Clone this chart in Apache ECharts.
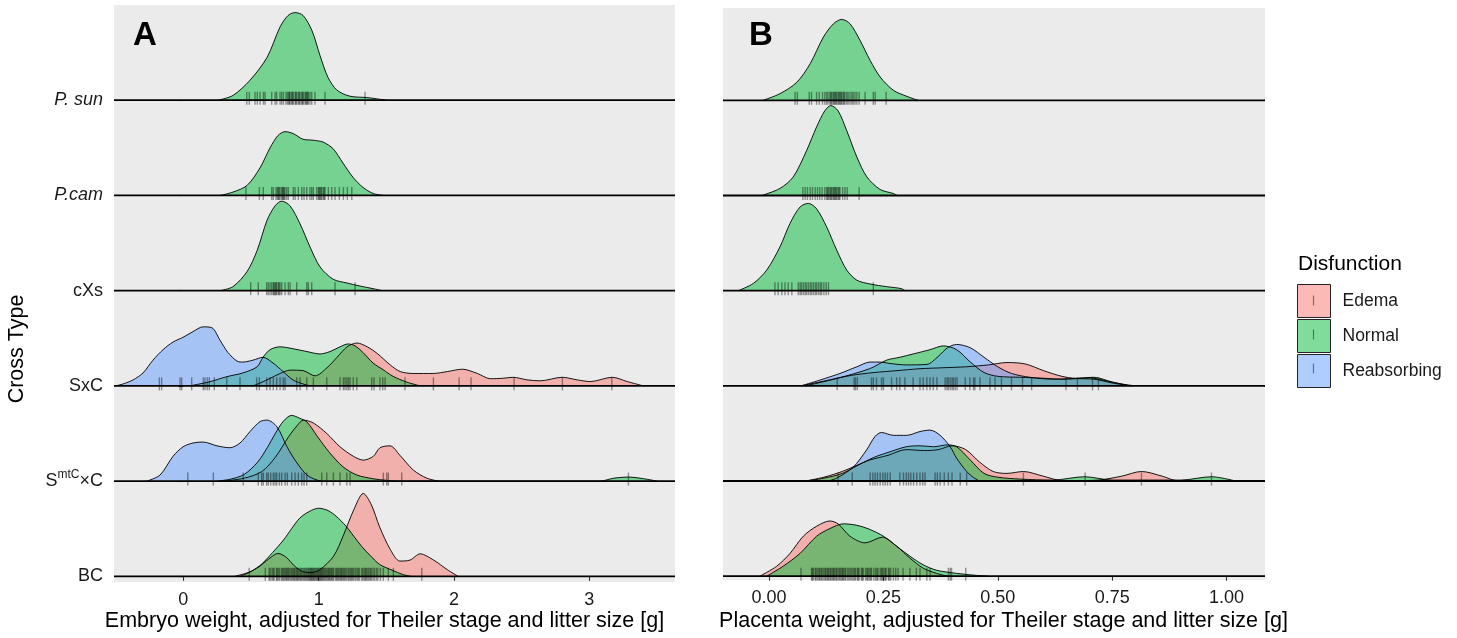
<!DOCTYPE html>
<html><head><meta charset="utf-8">
<script src="https://cdn.jsdelivr.net/npm/echarts@6/dist/echarts.min.js"></script>
<style>html,body{margin:0;padding:0;background:#fff}#c{width:1457px;height:638px}</style>
</head><body><div id="c"></div>
<script>
// ---------- categories ----------
const rowNames = ['BC', 'SmtCxC', 'SxC', 'cXs', 'P.cam', 'P. sun'];   // bottom -> top
const groupNames = ['Edema', 'Normal', 'Reabsorbing'];
const embryoTicks = [0, 1, 2, 3];
const placentaTicks = [0, 0.25, 0.5, 0.75, 1.0];

// ---------- density curves: [x, relative height in % of row spacing] ----------
// Panel A: embryo weight
const A_Psun_Normal = [[0.257,0],[0.367,5],[0.493,21],[0.619,45],[0.715,77],[0.774,89],[0.826,92],[0.885,89],[0.951,73],[1.010,47],[1.069,24],[1.136,10.5],[1.232,4.2],[1.357,2.8],[1.431,1.4],[1.505,0]];
const A_Pcam_Normal = [[0.273,0],[0.367,3.5],[0.471,10.5],[0.567,29],[0.641,50],[0.700,63],[0.752,67],[0.811,65],[0.885,59],[0.959,58],[1.033,56],[1.107,49],[1.180,34],[1.254,19],[1.328,8.4],[1.402,2.1],[1.476,0]];
const A_cXs_Normal = [[0.271,0],[0.367,4.2],[0.471,20],[0.545,42],[0.619,74],[0.678,89],[0.727,94],[0.789,89],[0.863,70],[0.936,46],[1.010,25],[1.107,12],[1.210,8],[1.306,4.8],[1.402,2.1],[1.468,0]];
const A_SxC_Edema = [[0.517,0],[0.619,6.3],[0.715,13],[0.789,16.5],[0.885,16],[0.973,10.5],[1.062,19],[1.136,30],[1.210,41],[1.284,45],[1.359,41],[1.433,34],[1.529,22],[1.603,15],[1.699,13],[1.847,13],[1.951,15],[2.062,17.5],[2.173,13],[2.269,7.5],[2.363,8],[2.437,9],[2.540,6.3],[2.637,5.3],[2.800,9],[2.911,6.3],[3.007,4.5],[3.170,9],[3.280,4.5],[3.399,0]];
const A_SxC_Normal = [[0.049,0],[0.197,4.4],[0.323,9.7],[0.441,13.6],[0.545,20],[0.589,30],[0.641,38],[0.715,41],[0.811,39],[0.914,36],[1.010,33.5],[1.084,36],[1.158,41],[1.217,44],[1.269,42],[1.328,35],[1.402,24],[1.476,17],[1.55,10],[1.65,4],[1.75,0]];
const A_SxC_Reabsorbing = [[-0.50,0],[-0.445,2],[-0.372,6.2],[-0.298,13.5],[-0.224,27],[-0.150,38],[-0.076,46],[-0.002,51],[0.072,57],[0.146,62],[0.212,61],[0.271,48],[0.330,35],[0.397,26],[0.441,25],[0.515,27],[0.589,30],[0.663,24],[0.737,15],[0.811,6.2],[0.885,2],[0.937,0]];
const A_SmtC_Edema = [[0.30,0],[0.45,3],[0.58,10],[0.68,25],[0.78,47],[0.84,58],[0.887,64],[0.961,61],[1.06,50],[1.158,36],[1.257,26],[1.33,22],[1.404,26],[1.453,35],[1.527,37],[1.601,27],[1.70,11.5],[1.80,3],[1.885,0]];
const A_SmtC_Normal = [[0.25,0],[0.35,2],[0.45,7],[0.55,20],[0.62,35],[0.68,50],[0.74,63],[0.80,69],[0.86,66],[0.914,62],[0.99,47],[1.08,30],[1.18,15],[1.28,6.5],[1.40,2.5],[1.50,0.8],[1.58,0],[3.08,0],[3.18,3],[3.29,4.2],[3.40,2.5],[3.50,0]];
const A_SmtC_Reabsorbing = [[-0.269,0],[-0.172,6.3],[-0.076,26],[-0.002,36],[0.072,40],[0.146,41],[0.249,37],[0.345,35],[0.419,40],[0.493,52],[0.567,62.5],[0.619,64],[0.692,57],[0.766,36],[0.840,19],[0.914,6.3],[0.988,1],[1.03,0]];
const A_BC_Edema = [[0.38,0],[0.48,4],[0.56,10],[0.63,18],[0.70,24],[0.76,20],[0.82,11],[0.88,5],[0.95,4],[1.01,7],[1.11,21],[1.18,42],[1.26,70],[1.33,87],[1.39,75],[1.45,52],[1.53,28],[1.60,16],[1.675,17],[1.75,23.6],[1.85,17],[1.95,7],[2.03,0]];
const A_BC_Normal = [[0.42,0],[0.50,5],[0.58,13],[0.66,25],[0.74,38],[0.80,50],[0.86,61],[0.93,68],[1.00,71.5],[1.07,69],[1.13,63],[1.20,53],[1.26,42],[1.32,31],[1.38,22],[1.45,12.5],[1.55,6],[1.62,2],[1.68,0]];

// Panel B: placenta weight
const B_Psun_Normal = [[-0.013,0],[0.024,7],[0.061,19],[0.090,38.5],[0.119,66.5],[0.141,80.5],[0.159,85],[0.177,80.5],[0.199,63],[0.221,42],[0.243,24.5],[0.272,10.5],[0.301,4.2],[0.326,0]];
const B_Pcam_Normal = [[-0.016,0],[0.024,7.4],[0.053,19.5],[0.082,47],[0.104,72],[0.122,89],[0.135,94.5],[0.151,89],[0.170,68],[0.192,40.5],[0.214,19.5],[0.243,6.3],[0.272,2.1],[0.28,0]];
const B_cXs_Normal = [[-0.067,0],[-0.034,7.7],[-0.005,21.6],[0.024,46],[0.046,70.7],[0.068,88],[0.086,91.7],[0.104,86],[0.126,67],[0.148,42.6],[0.170,21.6],[0.192,11],[0.221,7],[0.257,4.2],[0.290,2.1],[0.297,0]];
const B_SxC_Edema = [[0.07,0],[0.12,5],[0.18,11],[0.23,14],[0.28,16],[0.33,18],[0.38,19],[0.43,20],[0.48,22],[0.52,24.5],[0.56,23],[0.60,16],[0.64,10],[0.67,8],[0.70,8.5],[0.73,6],[0.77,2],[0.80,0]];
const B_SxC_Normal = [[0.08,0],[0.15,8],[0.22,18],[0.257,27],[0.286,30],[0.315,33.5],[0.352,38],[0.381,42],[0.41,38],[0.44,25],[0.47,14],[0.50,10],[0.55,9],[0.60,8],[0.64,7],[0.68,8],[0.71,9],[0.75,4],[0.79,0]];
const B_SxC_Reabsorbing = [[0.07,0],[0.111,6],[0.155,13],[0.192,20],[0.221,25],[0.243,25],[0.264,23.5],[0.30,22],[0.345,22.5],[0.37,31],[0.39,40],[0.41,43.5],[0.44,40],[0.47,30],[0.50,20],[0.53,13],[0.57,9],[0.62,7],[0.67,7.5],[0.71,7],[0.75,3],[0.79,0]];
const B_SmtC_Edema = [[0.08,0],[0.12,4],[0.16,10],[0.19,16],[0.22,22],[0.26,27],[0.30,33],[0.34,32],[0.37,33],[0.40,37],[0.43,33],[0.46,20],[0.49,10],[0.52,8],[0.556,10],[0.60,5],[0.64,0.5],[0.68,0.5],[0.72,1],[0.77,5],[0.814,10],[0.86,5],[0.89,0.5],[0.95,0]];
const B_SmtC_Normal = [[0.08,0],[0.12,3],[0.16,8],[0.20,18],[0.23,25],[0.26,30],[0.30,36],[0.33,37],[0.36,36],[0.39,38],[0.41,36],[0.44,22],[0.47,8],[0.50,4],[0.55,2],[0.62,1],[0.69,4.5],[0.75,1],[0.85,1],[0.90,1],[0.967,4.5],[1.02,0]];
const B_SmtC_Reabsorbing = [[0.13,0],[0.148,3],[0.184,14.5],[0.213,32.5],[0.232,47],[0.246,51],[0.272,48],[0.301,48],[0.330,52],[0.352,53.5],[0.374,48],[0.396,36],[0.410,24],[0.432,10],[0.446,4],[0.46,0]];
const B_BC_Edema = [[-0.02,0],[0.017,10.5],[0.046,24],[0.075,42],[0.104,52.5],[0.133,58],[0.151,55],[0.177,42],[0.21,35],[0.248,41],[0.279,31.5],[0.308,19],[0.337,8.4],[0.366,3],[0.39,0]];
const B_BC_Normal = [[-0.005,0],[0.031,10.5],[0.068,24],[0.104,42],[0.133,50],[0.162,55],[0.192,53.5],[0.221,49],[0.25,42],[0.279,31.5],[0.308,21],[0.337,12],[0.366,6.3],[0.41,3],[0.45,1],[0.48,0]];

// ---------- rug (individual observations) ----------
const A_rug_Psun = [0.469,0.488,0.530,0.547,0.567,0.592,0.604,0.653,0.678,0.690,0.715,0.727,0.740,0.759,0.769,0.779,0.789,0.801,0.813,0.826,0.838,0.850,0.863,0.875,0.887,0.899,0.912,0.924,0.936,0.949,0.973,1.047,1.343,0.784,0.806,0.831,0.857,0.881,0.905,0.918];
const A_rug_Pcam = [0.463,0.562,0.591,0.653,0.665,0.685,0.702,0.715,0.727,0.739,0.751,0.764,0.776,0.813,0.826,0.850,0.875,0.892,0.912,0.936,0.949,0.961,0.986,0.998,1.010,1.023,1.035,1.047,1.072,1.097,1.121,1.153,1.183,1.212,1.245,0.695,0.708,0.733,0.745,1.004,1.017,1.041];
const A_rug_cXs = [0.498,0.554,0.616,0.628,0.641,0.653,0.665,0.678,0.690,0.702,0.715,0.727,0.752,0.776,0.789,0.838,0.912,0.924,0.949,1.121,1.269,0.671,0.684,0.708];
const A_rug_SxC = [-0.177,-0.160,-0.024,-0.012,0.062,0.148,0.160,0.177,0.192,0.229,0.321,0.419,0.542,0.562,0.616,0.641,0.665,0.690,0.715,0.739,0.752,0.838,0.863,0.912,0.961,1.060,1.158,1.183,1.195,1.208,1.220,1.232,1.256,1.282,1.392,1.409,1.453,1.474,1.491,1.638,1.848,2.038,2.126,2.444,2.801,3.166];
const A_rug_SmtC = [0.033,0.222,0.443,0.554,0.579,0.591,0.616,0.628,0.646,0.665,0.678,0.690,0.710,0.727,0.752,0.769,0.801,0.826,0.850,0.875,0.892,0.912,1.023,1.060,1.109,1.158,1.208,1.232,1.478,1.503,1.515,1.614,3.289];
const A_rug_BC = [0.487,0.606,0.634,0.655,0.671,0.688,0.694,0.712,0.733,0.741,0.758,0.772,0.779,0.797,0.813,0.826,0.842,0.857,0.866,0.881,0.897,0.905,0.921,0.934,0.946,0.958,0.969,0.977,0.991,1.002,1.009,1.021,1.034,1.048,1.056,1.071,1.083,1.097,1.112,1.126,1.141,1.158,1.172,1.189,1.207,1.226,1.243,1.261,1.284,1.302,1.318,1.337,1.352,1.371,1.389,1.412,1.437,1.478,1.515,1.552,1.762,
  0.642,0.664,0.703,0.726,0.749,0.764,0.788,0.805,0.821,0.836,0.849,0.872,0.889,0.913,0.927,0.941,0.952,0.963,0.983,0.996,1.014,1.027,1.041,1.063,1.077,1.091,1.105,1.133,1.149,1.166,1.181,1.197,1.218,1.236,1.252,1.273,1.293,1.327,1.346,1.362,1.381,1.401,1.426,1.456];
const B_rug_Psun = [0.057,0.062,0.088,0.093,0.104,0.110,0.117,0.122,0.126,0.129,0.133,0.137,0.140,0.144,0.148,0.151,0.155,0.159,0.162,0.166,0.170,0.173,0.177,0.181,0.184,0.188,0.192,0.197,0.210,0.228,0.232,0.256,0.135,0.142,0.146,0.153,0.157,0.164];
const B_rug_Pcam = [0.074,0.079,0.084,0.090,0.095,0.101,0.106,0.111,0.116,0.122,0.126,0.130,0.133,0.137,0.140,0.144,0.148,0.151,0.155,0.161,0.166,0.171,0.197,0.128,0.135,0.142,0.146,0.153];
const B_rug_cXs = [0.013,0.020,0.028,0.035,0.042,0.050,0.064,0.068,0.071,0.075,0.079,0.082,0.086,0.090,0.093,0.097,0.101,0.104,0.108,0.112,0.115,0.120,0.125,0.130,0.228];
const B_rug_SxC = [0.149,0.186,0.189,0.193,0.224,0.228,0.235,0.246,0.250,0.268,0.279,0.286,0.297,0.315,0.330,0.337,0.345,0.352,0.359,0.367,0.385,0.389,0.392,0.396,0.400,0.403,0.407,0.411,0.429,0.439,0.447,0.450,0.461,0.483,0.494,0.508,0.530,0.554,0.574,0.649,0.674,0.707,0.720];
const B_rug_SmtC = [0.151,0.182,0.221,0.227,0.232,0.237,0.243,0.249,0.254,0.259,0.265,0.286,0.294,0.300,0.305,0.310,0.316,0.323,0.330,0.336,0.341,0.363,0.368,0.374,0.383,0.392,0.400,0.418,0.432,0.556,0.691,0.814,0.967];
const B_rug_BC = [0.070,0.093,0.097,0.103,0.106,0.111,0.114,0.119,0.124,0.127,0.131,0.136,0.139,0.143,0.148,0.151,0.156,0.159,0.163,0.168,0.172,0.175,0.181,0.184,0.189,0.193,0.197,0.202,0.206,0.211,0.216,0.219,0.224,0.229,0.233,0.238,0.243,0.246,0.251,0.256,0.261,0.266,0.272,0.282,0.293,0.308,0.322,0.330,0.345,0.352,0.392,0.396,0.399,0.430,
  0.095,0.101,0.109,0.116,0.122,0.129,0.134,0.141,0.146,0.154,0.161,0.166,0.178,0.187,0.195,0.204,0.214,0.222,0.236,0.248,0.254,0.263,0.277];

// ---------- assembly ----------
const FONT = '"Liberation Sans", Arial, Helvetica, sans-serif';
const fills = { Edema: 'rgba(248,118,109,0.5)', Normal: 'rgba(0,186,56,0.5)', Reabsorbing: 'rgba(97,156,255,0.5)' };
const panels = [
  { xMin: -0.512, xMax: 3.633, ticks: embryoTicks,
    rows: { 'P. sun': [['Normal', A_Psun_Normal]], 'P.cam': [['Normal', A_Pcam_Normal]], 'cXs': [['Normal', A_cXs_Normal]],
            'SxC': [['Edema', A_SxC_Edema], ['Normal', A_SxC_Normal], ['Reabsorbing', A_SxC_Reabsorbing]],
            'SmtCxC': [['Edema', A_SmtC_Edema], ['Normal', A_SmtC_Normal], ['Reabsorbing', A_SmtC_Reabsorbing]],
            'BC': [['Edema', A_BC_Edema], ['Normal', A_BC_Normal]] },
    rugs: { 'P. sun': A_rug_Psun, 'P.cam': A_rug_Pcam, 'cXs': A_rug_cXs, 'SxC': A_rug_SxC, 'SmtCxC': A_rug_SmtC, 'BC': A_rug_BC } },
  { xMin: -0.1005, xMax: 1.084, ticks: placentaTicks,
    rows: { 'P. sun': [['Normal', B_Psun_Normal]], 'P.cam': [['Normal', B_Pcam_Normal]], 'cXs': [['Normal', B_cXs_Normal]],
            'SxC': [['Edema', B_SxC_Edema], ['Normal', B_SxC_Normal], ['Reabsorbing', B_SxC_Reabsorbing]],
            'SmtCxC': [['Edema', B_SmtC_Edema], ['Normal', B_SmtC_Normal], ['Reabsorbing', B_SmtC_Reabsorbing]],
            'BC': [['Edema', B_BC_Edema], ['Normal', B_BC_Normal]] },
    rugs: { 'P. sun': B_rug_Psun, 'P.cam': B_rug_Pcam, 'cXs': B_rug_cXs, 'SxC': B_rug_SxC, 'SmtCxC': B_rug_SmtC, 'BC': B_rug_BC } }
];

const series = [];
panels.forEach((p, gi) => {
  for (let r = rowNames.length - 1; r >= 0; r--) {
    const name = rowNames[r];
    (p.rows[name] || []).forEach(([grp, pts]) => {
      series.push({
        type: 'line', name: grp, xAxisIndex: gi, yAxisIndex: gi, silent: true,
        data: pts.map(([x, h]) => [x, r + h / 100]),
        smooth: 0.3, symbol: 'none', clip: true, z: 2,
        lineStyle: { color: '#000', width: 0.9 },
        areaStyle: { color: fills[grp], opacity: 1, origin: r }
      });
    });
    series.push({
      type: 'line', name: 'baseline', xAxisIndex: gi, yAxisIndex: gi, silent: true,
      data: [[p.xMin, r], [p.xMax, r]], symbol: 'none', z: 3,
      lineStyle: { color: '#000', width: 1.8 }
    });
  }
  const rugData = [];
  rowNames.forEach((name, r) => (p.rugs[name] || []).forEach(x => rugData.push([x, r])));
  series.push({
    type: 'scatter', name: 'rug', xAxisIndex: gi, yAxisIndex: gi, silent: true, z: 4,
    data: rugData, symbol: 'rect', symbolSize: [1.4, 13], symbolOffset: [0, -2],
    itemStyle: { color: 'rgba(0,0,0,0.5)' }
  });
});

const rowLabel = v => {
  const n = rowNames[Math.round(v)];
  if (n === 'P. sun' || n === 'P.cam') return '{it|' + n + '}';
  if (n === 'SmtCxC') return '{n|S}{sup|mtC}{n|\u00D7C}';
  return '{n|' + n + '}';
};

const option = {
  animation: false,
  textStyle: { fontFamily: FONT },
  grid: [
    { left: 114, top: 5, width: 561, height: 577, show: true, backgroundColor: '#EBEBEB', borderWidth: 0 },
    { left: 723, top: 8, width: 542, height: 572, show: true, backgroundColor: '#EBEBEB', borderWidth: 0 }
  ],
  xAxis: panels.map((p, gi) => ({
    type: 'value', gridIndex: gi, min: p.xMin, max: p.xMax,
    axisLine: { show: false }, splitLine: { show: false },
    axisTick: { show: true, length: 4.5, customValues: p.ticks, lineStyle: { color: '#333', width: 1.1 } },
    axisLabel: { customValues: p.ticks, fontSize: 18, color: '#1a1a1a', margin: 9, fontFamily: FONT,
      formatter: v => gi === 0 ? String(v) : v.toFixed(2) }
  })),
  yAxis: [
    { type: 'value', gridIndex: 0, min: -0.06, max: 6.0,
      axisLine: { show: false }, splitLine: { show: false },
      axisTick: { show: true, length: 5, customValues: [0,1,2,3,4,5], lineStyle: { color: '#333', width: 1.1 } },
      axisLabel: { customValues: [0,1,2,3,4,5], margin: 11, formatter: rowLabel,
        rich: {
          n: { fontSize: 18, color: '#1a1a1a', fontFamily: FONT },
          it: { fontSize: 18, color: '#1a1a1a', fontStyle: 'italic', fontFamily: FONT },
          sup: { fontSize: 12, color: '#1a1a1a', fontFamily: FONT, padding: [0, 0, 12, 0] }
        } } },
    { type: 'value', gridIndex: 1, min: -0.04, max: 5.97,
      axisLine: { show: false }, splitLine: { show: false }, axisTick: { show: false }, axisLabel: { show: false } }
  ],
  legend: {
    orient: 'vertical', left: 1297, top: 284, padding: 0, itemWidth: 33, itemHeight: 33, itemGap: 1,
    selectedMode: false, icon: 'rect',
    textStyle: { fontSize: 17.5, color: '#1a1a1a', fontFamily: FONT, padding: [0, 0, 0, 7] },
    data: groupNames.map(g => ({ name: g, icon: 'rect', itemStyle: { color: fills[g], borderColor: '#222', borderWidth: 1 } }))
  },
  graphic: [
    { type: 'text', left: 133, top: 19, style: { text: 'A', font: 'bold 33px ' + FONT, fill: '#000' } },
    { type: 'text', left: 749, top: 19, style: { text: 'B', font: 'bold 33px ' + FONT, fill: '#000' } },
    { type: 'text', x: 384.5, y: 621, style: { text: 'Embryo weight, adjusted for Theiler stage and litter size [g]', font: '21.5px ' + FONT, fill: '#000', align: 'center', verticalAlign: 'middle' } },
    { type: 'text', x: 1003.5, y: 621, style: { text: 'Placenta weight, adjusted for Theiler stage and litter size [g]', font: '21.5px ' + FONT, fill: '#000', align: 'center', verticalAlign: 'middle' } },
    { type: 'text', x: 17, y: 349, rotation: Math.PI / 2, style: { text: 'Cross Type', font: '21.5px ' + FONT, fill: '#000', align: 'center', verticalAlign: 'middle' } },
    { type: 'text', x: 1298, y: 264, style: { text: 'Disfunction', font: '21px ' + FONT, fill: '#000', align: 'left', verticalAlign: 'middle' } },
    ...groupNames.map((g, i) => ({ type: 'line', z: 100, shape: { x1: 1313.5, y1: 295.5 + i * 34, x2: 1313.5, y2: 305.5 + i * 34 }, style: { stroke: 'rgba(0,0,0,0.45)', lineWidth: 1.2 } }))
  ],
  series: series
};

const chart = echarts.init(document.getElementById('c'), null, { renderer: 'canvas' });
chart.setOption(option);
</script>
</body></html>
